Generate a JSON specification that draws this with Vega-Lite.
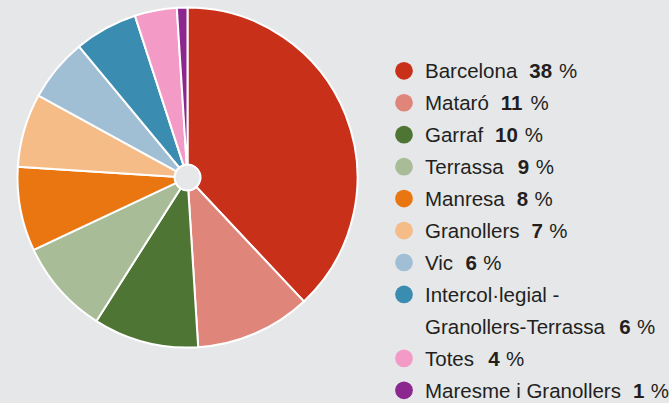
{
  "$schema": "https://vega.github.io/schema/vega-lite/v6.json",
  "background": "#e6e7e9",
  "padding": 0,
  "spacing": 0,
  "bounds": "flush",
  "config": {"view": {"stroke": null}, "font": "Liberation Sans"},
  "data": {"values": [
    {"name": "Barcelona", "value": 38},
    {"name": "Mataró", "value": 11},
    {"name": "Garraf", "value": 10},
    {"name": "Terrassa", "value": 9},
    {"name": "Manresa", "value": 8},
    {"name": "Granollers", "value": 7},
    {"name": "Vic", "value": 6},
    {"name": "Intercol·legial -\nGranollers-Terrassa", "value": 6},
    {"name": "Totes", "value": 4},
    {"name": "Maresme i Granollers", "value": 1}
  ]},
  "hconcat": [
    {
      "width": 375,
      "height": 355,
      "transform": [
        {"calculate": "indexof(['Barcelona', 'Mataró', 'Garraf', 'Terrassa', 'Manresa', 'Granollers', 'Vic', 'Intercol·legial -\\nGranollers-Terrassa', 'Totes', 'Maresme i Granollers'], datum.name)", "as": "ord"}
      ],
      "mark": {"type": "arc", "outerRadius": 170, "innerRadius": 13, "stroke": "#ffffff", "strokeWidth": 2},
      "encoding": {
        "theta": {"field": "value", "type": "quantitative", "stack": true},
        "order": {"field": "ord", "type": "quantitative", "sort": "ascending"},
        "color": {
          "field": "name", "type": "nominal",
          "scale": {
            "domain": ["Barcelona", "Mataró", "Garraf", "Terrassa", "Manresa", "Granollers", "Vic", "Intercol·legial -\nGranollers-Terrassa", "Totes", "Maresme i Granollers"],
            "range": ["#c8301a", "#e0857a", "#4e7533", "#a8bc97", "#ea7612", "#f5bc88", "#a0bed4", "#3a8cb0", "#f39bc6", "#8c278f"]
          },
          "legend": null
        }
      }
    },
    {
      "width": 294,
      "height": 403,
      "transform": [
        {"calculate": "slice(datum.name, lastindexof(datum.name, '\\n') + 1)", "as": "last"},
        {"calculate": "(222*length(replace(datum.last, regexp('[^ijl]','g'), '')) + 278*length(replace(datum.last, regexp('[^ftI ·]','g'), '')) + 333*length(replace(datum.last, regexp('[^r-]','g'), '')) + 500*length(replace(datum.last, regexp('[^cksvxyz]','g'), '')) + 556*length(replace(datum.last, regexp('[^abdeghnopquó0-9]','g'), '')) + 611*length(replace(datum.last, regexp('[^TFZ]','g'), '')) + 667*length(replace(datum.last, regexp('[^ABEKPSVXY]','g'), '')) + 722*length(replace(datum.last, regexp('[^wCDHNRU]','g'), '')) + 778*length(replace(datum.last, regexp('[^GOQ]','g'), '')) + 833*length(replace(datum.last, regexp('[^mM]','g'), ''))) * 20.5 / 1000", "as": "w"},
        {"calculate": "50 + datum.w + 12", "as": "numX"},
        {"calculate": "datum.numX + length(toString(datum.value)) * 11.8 + 6", "as": "pctX"},
        {"calculate": "indexof(datum.name, '\\n') >= 0 ? datum.name + '|2' : datum.name", "as": "lineKey"}
      ],
      "layer": [
        {
          "mark": {"type": "circle", "size": 314, "opacity": 1},
          "encoding": {
            "x": {"datum": 29, "type": "quantitative", "scale": {"domain": [0, 294], "nice": false, "zero": true}, "axis": null},
            "y": {"field": "name", "type": "nominal", "axis": null, "scale": {"type": "point", "domain": ["", "Barcelona", "Mataró", "Garraf", "Terrassa", "Manresa", "Granollers", "Vic", "Intercol·legial -\nGranollers-Terrassa", "Intercol·legial -\nGranollers-Terrassa|2", "Totes", "Maresme i Granollers"], "padding": 0.806, "align": 0.754}},
            "color": {
              "field": "name", "type": "nominal",
              "scale": {
                "domain": ["Barcelona", "Mataró", "Garraf", "Terrassa", "Manresa", "Granollers", "Vic", "Intercol·legial -\nGranollers-Terrassa", "Totes", "Maresme i Granollers"],
                "range": ["#c8301a", "#e0857a", "#4e7533", "#a8bc97", "#ea7612", "#f5bc88", "#a0bed4", "#3a8cb0", "#f39bc6", "#8c278f"]
              },
              "legend": null
            }
          }
        },
        {
          "mark": {"type": "text", "align": "left", "baseline": "alphabetic", "dy": 7.5, "fontSize": 20.5, "lineBreak": "\n", "lineHeight": 32, "color": "#231f20"},
          "encoding": {
            "x": {"datum": 50, "type": "quantitative", "scale": {"domain": [0, 294], "nice": false, "zero": true}, "axis": null},
            "y": {"field": "name", "type": "nominal", "axis": null, "scale": {"type": "point", "domain": ["", "Barcelona", "Mataró", "Garraf", "Terrassa", "Manresa", "Granollers", "Vic", "Intercol·legial -\nGranollers-Terrassa", "Intercol·legial -\nGranollers-Terrassa|2", "Totes", "Maresme i Granollers"], "padding": 0.806, "align": 0.754}},
            "text": {"field": "name"}
          }
        },
        {
          "mark": {"type": "text", "align": "left", "baseline": "alphabetic", "dy": 7.5, "fontSize": 20.5, "fontWeight": "bold", "color": "#231f20"},
          "encoding": {
            "x": {"field": "numX", "type": "quantitative", "scale": {"domain": [0, 294], "nice": false, "zero": true}, "axis": null},
            "y": {"field": "lineKey", "type": "nominal", "axis": null, "scale": {"type": "point", "domain": ["", "Barcelona", "Mataró", "Garraf", "Terrassa", "Manresa", "Granollers", "Vic", "Intercol·legial -\nGranollers-Terrassa", "Intercol·legial -\nGranollers-Terrassa|2", "Totes", "Maresme i Granollers"], "padding": 0.806, "align": 0.754}},
            "text": {"field": "value", "type": "quantitative"}
          }
        },
        {
          "mark": {"type": "text", "align": "left", "baseline": "alphabetic", "dy": 7.5, "fontSize": 20.5, "color": "#231f20"},
          "encoding": {
            "x": {"field": "pctX", "type": "quantitative", "scale": {"domain": [0, 294], "nice": false, "zero": true}, "axis": null},
            "y": {"field": "lineKey", "type": "nominal", "axis": null, "scale": {"type": "point", "domain": ["", "Barcelona", "Mataró", "Garraf", "Terrassa", "Manresa", "Granollers", "Vic", "Intercol·legial -\nGranollers-Terrassa", "Intercol·legial -\nGranollers-Terrassa|2", "Totes", "Maresme i Granollers"], "padding": 0.806, "align": 0.754}},
            "text": {"value": "%"}
          }
        }
      ]
    }
  ]
}
